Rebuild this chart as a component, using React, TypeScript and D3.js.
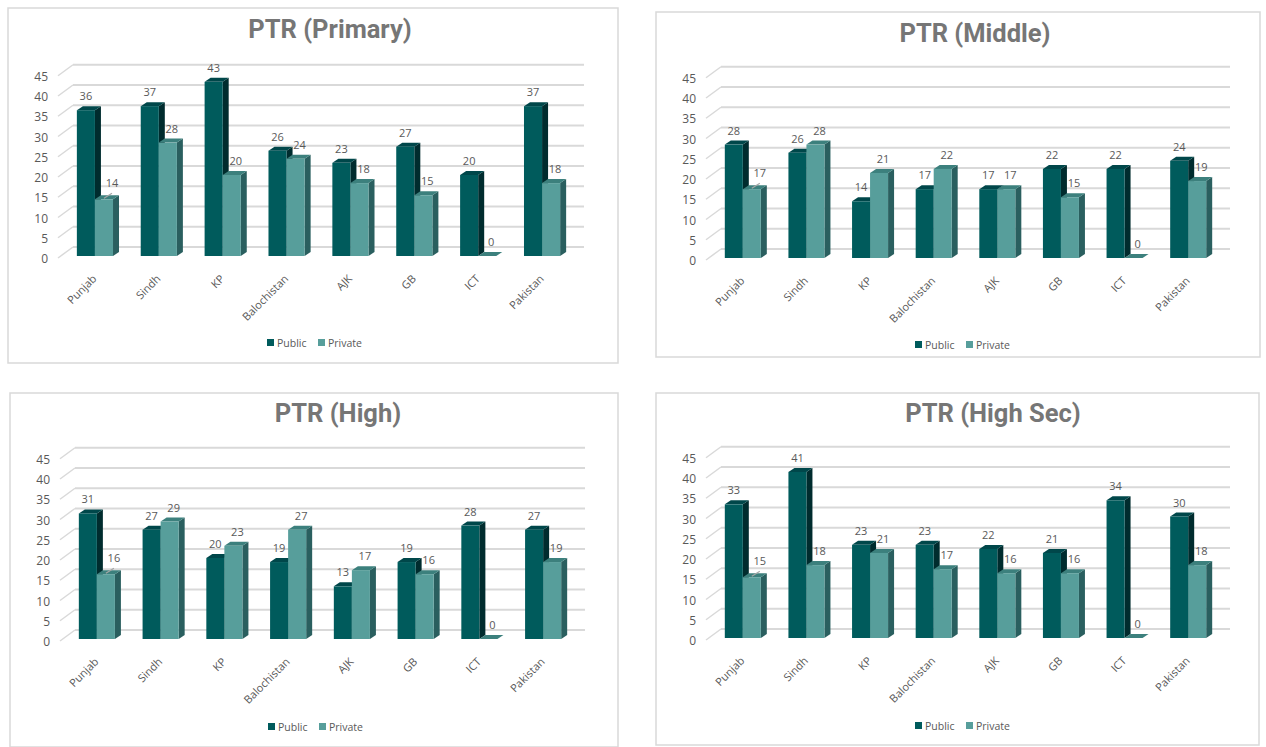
import React from "react";
import * as d3 from "d3";

const categories = ["Punjab", "Sindh", "KP", "Balochistan", "AJK", "GB", "ICT", "Pakistan"];
const seriesNames = ["Public", "Private"];
const yTicks = [0, 5, 10, 15, 20, 25, 30, 35, 40, 45];

const primaryPublic = [36, 37, 43, 26, 23, 27, 20, 37];
const primaryPrivate = [14, 28, 20, 24, 18, 15, 0, 18];
const middlePublic = [28, 26, 14, 17, 17, 22, 22, 24];
const middlePrivate = [17, 28, 21, 22, 17, 15, 0, 19];
const highPublic = [31, 27, 20, 19, 13, 19, 28, 27];
const highPrivate = [16, 29, 23, 27, 17, 16, 0, 19];
const highSecPublic = [33, 41, 23, 23, 22, 21, 34, 30];
const highSecPrivate = [15, 18, 21, 17, 16, 16, 0, 18];

const titles = ["PTR (Primary)", "PTR (Middle)", "PTR (High)", "PTR (High Sec)"];

const colors = {
  Public: { front: "#005b5c", side: "#002c2e", top: "#00474a" },
  Private: { front: "#579e9b", side: "#2a5f5f", top: "#3c807d" },
};

const layouts = [
  { px: 8, py: 8, pw: 610, ph: 355, tx: 330, ty: 38, x0: 63, x1: 574, floor: 256, lx: 267, ly: 343 },
  { px: 656, py: 12, pw: 604, ph: 345, tx: 975, ty: 42, x0: 711, x1: 1220, floor: 258, lx: 915, ly: 345 },
  { px: 10, py: 393, pw: 608, ph: 354, tx: 338, ty: 422, x0: 65, x1: 575, floor: 639, lx: 268, ly: 727 },
  { px: 656, py: 393, pw: 603, ph: 352, tx: 993, ty: 422, x0: 711, x1: 1220, floor: 638, lx: 915, ly: 726 },
];

const K = 4.05;
const BDX = 10;
const BDY = -9;
const DX = 6;
const DY = 4;
const FONT = "'Open Sans', 'Noto Sans', sans-serif";

function Bar({ x, w, yTop, floor, c }: any) {
  if (yTop >= floor - 0.01) {
    return (
      <polygon
        points={`${x},${floor} ${x + DX},${floor - DY} ${x + w + DX},${floor - DY} ${x + w},${floor}`}
        fill={c.top}
      />
    );
  }
  return (
    <g>
      <polygon
        points={`${x + w},${yTop} ${x + w + DX},${yTop - DY} ${x + w + DX},${floor - DY} ${x + w},${floor}`}
        fill={c.side}
      />
      <polygon
        points={`${x},${yTop} ${x + DX},${yTop - DY} ${x + w + DX},${yTop - DY} ${x + w},${yTop}`}
        fill={c.top}
      />
      <rect x={x} y={yTop} width={w} height={floor - yTop} fill={c.front} />
    </g>
  );
}

function Panel({ title, pub, priv, L }: any) {
  const x = d3.scaleBand<string>().domain(categories).range([L.x0, L.x1]);
  const y = d3.scaleLinear().domain([0, 45]).range([L.floor, L.floor - 45 * K]);
  const sub = d3.scaleBand<string>().domain(seriesNames).range([0, x.bandwidth() * 0.566]);
  const bw = sub.bandwidth();
  const values: any = { Public: pub, Private: priv };
  return (
    <g>
      <rect x={L.px} y={L.py} width={L.pw} height={L.ph} fill="#fff" stroke="#d9d9d9" strokeWidth={1.5} />
      <text x={L.tx} y={L.ty} textAnchor="middle" fontFamily="Roboto, sans-serif" fontWeight="bold" fontSize={25.5} fill="#767676">
        {title}
      </text>
      {yTicks.map((t) => (
        <g key={t}>
          <line x1={L.x0 + BDX} x2={L.x1 + BDX} y1={y(t) + BDY} y2={y(t) + BDY} stroke="#d9d9d9" strokeWidth={1.8} />
          <line x1={L.x0 - 5} y1={y(t) + 2} x2={L.x0 + BDX} y2={y(t) + BDY} stroke="#d9d9d9" strokeWidth={1.5} />
          <text x={L.x0 - 15} y={y(t) + 3} dy="0.35em" textAnchor="end" fontFamily={FONT} fontSize={12} fill="#595959">
            {t}
          </text>
        </g>
      ))}
      {categories.map((cat, i) => {
        const cx = (x(cat) as number) + x.bandwidth() / 2;
        const gx = cx - bw;
        return (
          <g key={cat}>
            {seriesNames.map((s) => {
              const v = values[s][i];
              const bx = gx + (sub(s) as number);
              const yt = y(v);
              return <Bar key={s} x={bx} w={bw} yTop={yt} floor={L.floor} c={(colors as any)[s]} />;
            })}
            {seriesNames.map((s) => {
              const v = values[s][i];
              const bx = gx + (sub(s) as number);
              const yt = y(v);
              const lx = bx + bw / 2 + (s === "Private" ? 4 : 0);
              const leader = s === "Private" && cat === "Punjab";
              return (
                <g key={s + "l"}>
                  {leader && (
                    <line x1={bx + bw / 2} y1={yt - 1} x2={bx + bw / 2 + 8} y2={yt - 6} stroke="#a6a6a6" strokeWidth={1.2} />
                  )}
                  <text
                    x={leader ? lx + 4 : lx}
                    y={yt - (leader ? 12 : 10)}
                    textAnchor="middle"
                    fontFamily={FONT}
                    fontSize={11}
                    fill="#595959"
                  >
                    {v}
                  </text>
                </g>
              );
            })}
            <text
              transform={`translate(${cx - 3},${L.floor + 18}) rotate(-45)`}
              textAnchor="end"
              dy="0.7em"
              fontFamily={FONT}
              fontSize={11}
              fill="#595959"
            >
              {cat}
            </text>
          </g>
        );
      })}
      {seriesNames.map((s, i) => {
        const ox = L.lx + i * 51;
        return (
          <g key={s}>
            <rect x={ox} y={L.ly - 4} width={7} height={7} fill={(colors as any)[s].front} />
            <text x={ox + 10} y={L.ly} dy="0.35em" fontFamily={FONT} fontSize={10.5} fill="#595959">
              {s}
            </text>
          </g>
        );
      })}
    </g>
  );
}

export default function App() {
  const data = [
    [primaryPublic, primaryPrivate],
    [middlePublic, middlePrivate],
    [highPublic, highPrivate],
    [highSecPublic, highSecPrivate],
  ];
  return (
    <svg width={1266} height={747} style={{ position: "absolute", left: 0, top: 0, background: "#fff" }}>
      <rect x={0} y={0} width={1266} height={747} fill="#fff" />
      {data.map((d, i) => (
        <Panel key={i} title={titles[i]} pub={d[0]} priv={d[1]} L={layouts[i]} />
      ))}
    </svg>
  );
}
